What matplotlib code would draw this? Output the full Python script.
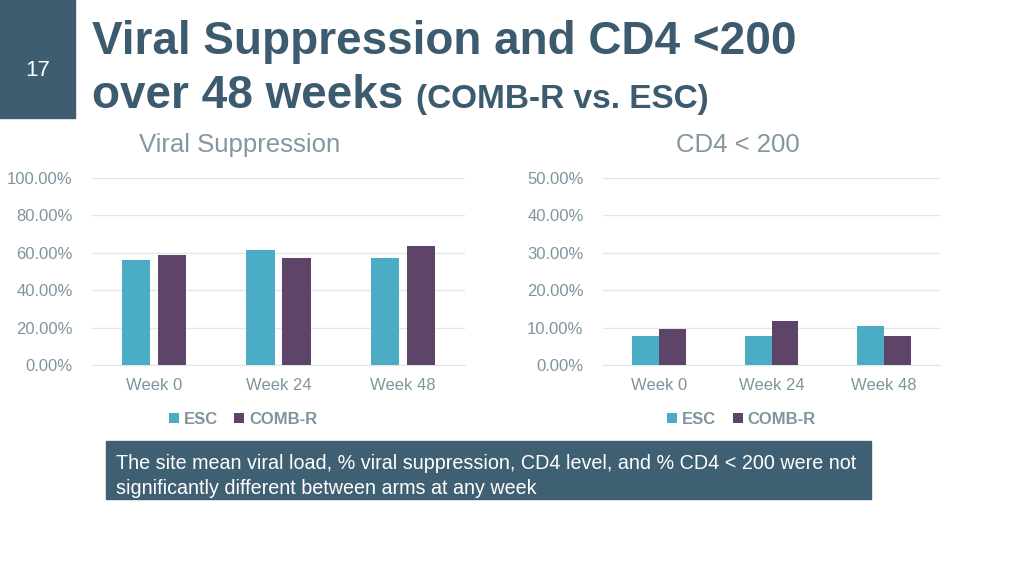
import matplotlib
matplotlib.use('Agg')
import matplotlib.pyplot as plt
import numpy as np
from matplotlib.patches import Rectangle
from matplotlib.ticker import FuncFormatter

weeks = ['Week 0', 'Week 24', 'Week 48']
vs_esc = [56.1, 61.5, 57.4]
vs_comb = [59.0, 57.0, 63.8]
cd4_esc = [7.8, 7.8, 10.3]
cd4_comb = [9.7, 11.8, 7.8]

c_esc = '#4BACC6'
c_comb = '#5E4468'
c_title = '#3C5B6E'
c_tick = '#7E959D'
c_grid = '#E3E6E8'

narrow = ['Liberation Sans Narrow', 'Liberation Sans', 'DejaVu Sans']
plt.rcParams['font.family'] = ['Liberation Sans', 'DejaVu Sans']

fig = plt.figure(figsize=(10.24, 5.76), dpi=100)
W, H = 1024, 576

def ax_rect(x0, y0, x1, y1):
    return [x0 / W, 1 - y1 / H, (x1 - x0) / W, (y1 - y0) / H]

# slide number block
fig.patches.append(Rectangle((0, 1 - 118 / H), 75 / W, 118 / H, transform=fig.transFigure,
                             color='#3E5D70', zorder=0))
fig.text(38 / W, 1 - 70 / H, '17', color='white', fontsize=16, ha='center', va='center')

fig.text(92 / W, 1 - 54 / H, 'Viral Suppression and CD4 <200', family=narrow, weight='bold',
         fontsize=33, color=c_title, ha='left', va='baseline')
t = fig.text(92 / W, 1 - 108 / H, 'over 48 weeks ', family=narrow, weight='bold',
             fontsize=33, color=c_title, ha='left', va='baseline')
fig.canvas.draw()
bb = t.get_window_extent()
fig.text(bb.x1 / W, 1 - 108 / H, '(COMB-R vs. ESC)', family=narrow, weight='bold',
         fontsize=24, color=c_title, ha='left', va='baseline')


def panel(rect, esc, comb, ymax, step, title, tcx, width, off, legx):
    ax = fig.add_axes(ax_rect(*rect))
    x = np.arange(len(weeks))
    ax.bar(x - off, esc, width, color=c_esc, zorder=3)
    ax.bar(x + off, comb, width, color=c_comb, zorder=3)
    ax.set_xlim(-0.5, 2.5)
    ax.set_ylim(0, ymax)
    ax.set_yticks(np.arange(0, ymax + 0.01, step))
    ax.yaxis.set_major_formatter(FuncFormatter(lambda v, p: '%.2f%%' % v))
    ax.set_xticks(x)
    ax.set_xticklabels(weeks)
    ax.grid(axis='y', color=c_grid, lw=1, zorder=0)
    for s in ['top', 'right', 'left']:
        ax.spines[s].set_visible(False)
    ax.spines['bottom'].set_color(c_grid)
    ax.tick_params(length=0, colors=c_tick, labelsize=12)
    ax.tick_params(axis='y', pad=14)
    ax.tick_params(axis='x', pad=9)
    fig.text(tcx / W, 1 - 145 / H, title, fontsize=18.5, color='#8497A0', ha='center', va='center')
    leg = ax.legend(['ESC', 'COMB-R'], loc='upper center', bbox_to_anchor=(legx, -0.17),
                    ncol=2, frameon=False, handlelength=0.6, handleheight=0.6,
                    handletextpad=0.3, columnspacing=1.0, prop={'weight': 'bold', 'size': 12})
    for tx in leg.get_texts():
        tx.set_color(c_tick)
    return ax

panel((92, 178, 465, 365), vs_esc, vs_comb, 100, 20, 'Viral Suppression', 240, 0.226, 0.145, 0.405)
panel((603, 178, 940, 365), cd4_esc, cd4_comb, 50, 10, 'CD4 < 200', 738, 0.24, 0.12, 0.41)

# note box
fig.patches.append(Rectangle((106 / W, 1 - 499 / H), (871 - 106) / W, (499 - 441) / H,
                             transform=fig.transFigure, color='#3F5F72', zorder=0))
fig.text(116 / W, 1 - 476 / H,
         'The site mean viral load, % viral suppression, CD4 level, and % CD4 < 200 were not\n'
         'significantly different between arms at any week',
         family=narrow, fontsize=14.2, color='white', ha='left', va='center', linespacing=1.45)

fig.savefig('out.png', dpi=100)
